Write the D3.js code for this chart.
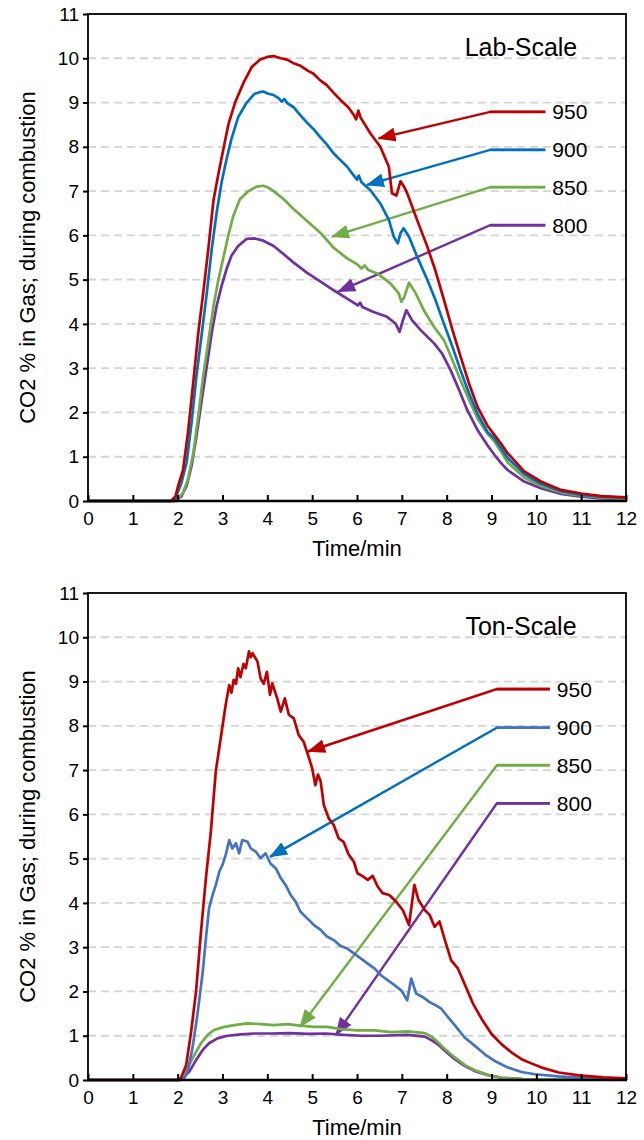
<!DOCTYPE html>
<html>
<head>
<meta charset="UTF-8">
<title>CO2 during combustion</title>
<script src="https://cdn.jsdelivr.net/npm/d3@7"></script>
<style>
  body { margin: 0; background: #fff; }
  text { font-family: "Liberation Sans", Arial, sans-serif; fill: #000; }
</style>
</head>
<body>
<svg width="644" height="1140"></svg>
<script>
// series names and tick values
const temps = ["950", "900", "850", "800"];
const xTicks = d3.range(0, 13);
const yTicks = d3.range(0, 12);
const gridValues = d3.range(1, 11);

// lab-scale curves, [time in min, CO2 %]
const lab950 = [[0,0],[1.85,0],[1.95,0.1],[2.01,0.34],[2.12,0.7],[2.23,1.55],[2.35,2.7],[2.46,3.8],[2.57,4.7],[2.69,5.75],[2.8,6.8],[2.91,7.4],[3.02,7.95],[3.13,8.5],[3.28,9.0],[3.47,9.45],[3.65,9.8],[3.84,9.97],[4.0,10.03],[4.14,10.05],[4.3,10.0],[4.44,9.97],[4.6,9.88],[4.74,9.83],[4.9,9.72],[5.03,9.65],[5.18,9.5],[5.32,9.4],[5.48,9.22],[5.63,9.06],[5.8,8.9],[5.93,8.72],[5.98,8.62],[6.03,8.82],[6.08,8.66],[6.3,8.3],[6.52,8.0],[6.71,7.55],[6.78,6.95],[6.88,6.9],[6.97,7.22],[7.05,7.1],[7.12,6.95],[7.34,6.35],[7.57,5.74],[7.75,5.2],[7.94,4.54],[8.13,3.86],[8.31,3.26],[8.5,2.65],[8.69,2.12],[8.91,1.7],[9.06,1.5],[9.21,1.3],[9.36,1.08],[9.73,0.67],[10.1,0.44],[10.55,0.25],[11,0.17],[11.45,0.11],[12,0.08]];
const lab900 = [[0,0],[1.93,0],[2.08,0.4],[2.2,0.87],[2.31,1.77],[2.42,2.83],[2.54,3.8],[2.65,4.7],[2.76,5.69],[2.87,6.52],[2.98,7.2],[3.09,7.72],[3.2,8.18],[3.35,8.67],[3.54,9.0],[3.72,9.2],[3.85,9.24],[3.91,9.25],[4.02,9.2],[4.14,9.17],[4.25,9.1],[4.32,9.02],[4.38,9.08],[4.45,8.98],[4.58,8.9],[4.73,8.72],[4.88,8.55],[5.03,8.4],[5.18,8.22],[5.33,8.05],[5.48,7.85],[5.63,7.7],[5.78,7.55],[5.93,7.35],[6.0,7.26],[6.04,7.35],[6.1,7.2],[6.3,7.02],[6.52,6.72],[6.71,6.35],[6.82,5.97],[6.91,5.82],[6.97,6.05],[7.04,6.16],[7.16,5.97],[7.34,5.52],[7.57,4.99],[7.75,4.54],[7.94,4.0],[8.13,3.48],[8.31,2.95],[8.5,2.43],[8.69,1.97],[8.91,1.56],[9.06,1.42],[9.21,1.2],[9.36,0.97],[9.73,0.61],[10.1,0.39],[10.55,0.22],[11,0.14],[11.45,0.1],[12,0.07]];
const lab850 = [[0,0],[1.97,0],[2.12,0.19],[2.23,0.49],[2.35,1.09],[2.46,1.92],[2.57,2.83],[2.69,3.65],[2.8,4.41],[2.91,5.01],[3.02,5.5],[3.13,6.0],[3.24,6.44],[3.39,6.82],[3.58,7.0],[3.76,7.1],[3.91,7.12],[4.02,7.08],[4.14,7.0],[4.36,6.82],[4.58,6.6],[4.88,6.33],[5.18,6.06],[5.48,5.72],[5.78,5.48],[6.0,5.35],[6.1,5.25],[6.17,5.32],[6.25,5.22],[6.45,5.14],[6.75,4.91],[6.93,4.69],[6.99,4.5],[7.05,4.6],[7.16,4.93],[7.31,4.69],[7.49,4.31],[7.72,3.93],[7.94,3.63],[8.13,3.18],[8.31,2.73],[8.5,2.28],[8.69,1.86],[8.91,1.52],[9.06,1.35],[9.21,1.12],[9.36,0.87],[9.73,0.53],[10.1,0.34],[10.55,0.19],[11,0.12],[11.45,0.08],[12,0.05]];
const lab800 = [[0,0],[1.9,0],[2.08,0.1],[2.2,0.34],[2.31,0.79],[2.42,1.47],[2.54,2.3],[2.65,3.05],[2.76,3.8],[2.87,4.41],[2.98,4.86],[3.09,5.24],[3.2,5.54],[3.35,5.76],[3.54,5.92],[3.72,5.93],[3.91,5.88],[4.14,5.76],[4.36,5.58],[4.58,5.39],[4.88,5.16],[5.18,4.96],[5.48,4.76],[5.78,4.57],[6.02,4.42],[6.07,4.48],[6.12,4.38],[6.37,4.27],[6.67,4.16],[6.86,4.01],[6.95,3.82],[7.03,4.1],[7.1,4.31],[7.23,4.08],[7.42,3.86],[7.72,3.56],[7.9,3.33],[8.09,2.95],[8.28,2.5],[8.46,2.05],[8.69,1.6],[8.91,1.26],[9.06,1.05],[9.21,0.86],[9.36,0.7],[9.73,0.44],[10.1,0.29],[10.55,0.16],[11,0.1],[11.45,0.06],[12,0.04]];

// ton-scale curves
const ton950 = [[0,0],[2.0,0],[2.07,0.04],[2.19,0.34],[2.3,1.09],[2.41,2.0],[2.52,3.35],[2.63,4.56],[2.74,5.61],[2.85,6.97],[2.96,7.72],[3.07,8.47],[3.15,8.92],[3.2,8.75],[3.25,9.04],[3.3,8.95],[3.35,9.3],[3.4,9.1],[3.47,9.4],[3.52,9.3],[3.59,9.68],[3.63,9.55],[3.67,9.64],[3.78,9.45],[3.85,9.07],[3.92,8.95],[3.99,9.22],[4.06,8.7],[4.11,8.96],[4.22,8.62],[4.3,8.32],[4.39,8.62],[4.48,8.25],[4.59,8.17],[4.7,7.79],[4.81,7.64],[4.93,7.27],[5.0,7.04],[5.07,6.66],[5.13,6.9],[5.19,6.74],[5.26,6.21],[5.37,5.91],[5.48,5.76],[5.59,5.46],[5.7,5.38],[5.81,5.1],[5.93,4.93],[6.01,4.67],[6.13,4.6],[6.24,4.52],[6.35,4.61],[6.46,4.37],[6.57,4.22],[6.72,4.18],[6.87,4.03],[7.02,3.84],[7.16,3.5],[7.28,4.41],[7.37,4.07],[7.51,3.84],[7.62,3.73],[7.73,3.46],[7.84,3.58],[7.96,3.16],[8.1,2.7],[8.25,2.52],[8.4,2.17],[8.59,1.72],[8.78,1.38],[9.0,1.04],[9.22,0.81],[9.45,0.62],[9.67,0.47],[9.9,0.37],[10.12,0.28],[10.5,0.17],[11,0.1],[11.5,0.06],[12,0.04]];
const ton900 = [[0,0],[2.05,0],[2.15,0.05],[2.22,0.19],[2.33,0.72],[2.44,1.47],[2.56,2.45],[2.63,3.2],[2.7,3.88],[2.78,4.18],[2.85,4.4],[2.93,4.71],[3.0,4.86],[3.07,5.08],[3.15,5.42],[3.22,5.23],[3.3,5.35],[3.37,5.12],[3.44,5.42],[3.56,5.38],[3.63,5.23],[3.74,5.16],[3.85,5.01],[3.96,5.12],[4.07,4.89],[4.19,4.78],[4.3,4.56],[4.41,4.4],[4.52,4.18],[4.63,4.03],[4.74,3.8],[4.89,3.65],[5.04,3.5],[5.19,3.39],[5.33,3.24],[5.48,3.16],[5.63,3.03],[5.78,2.97],[5.93,2.86],[6.09,2.74],[6.24,2.63],[6.39,2.52],[6.54,2.36],[6.69,2.25],[6.84,2.14],[6.99,2.02],[7.12,1.8],[7.21,2.29],[7.32,1.95],[7.47,1.87],[7.62,1.76],[7.77,1.68],[7.88,1.61],[8.03,1.42],[8.22,1.19],[8.4,0.96],[8.63,0.77],[8.85,0.58],[9.07,0.43],[9.37,0.28],[9.67,0.18],[9.97,0.13],[10.5,0.08],[11,0.05],[12,0.03]];
const ton850 = [[0,0],[2.0,0],[2.07,0.04],[2.22,0.26],[2.37,0.56],[2.52,0.83],[2.67,1.02],[2.81,1.13],[3.04,1.2],[3.26,1.24],[3.56,1.28],[3.85,1.26],[4.15,1.24],[4.44,1.26],[4.74,1.23],[5.04,1.2],[5.34,1.2],[5.64,1.15],[6.0,1.12],[6.39,1.12],[6.76,1.08],[7.13,1.1],[7.51,1.06],[7.66,0.98],[7.81,0.85],[7.96,0.7],[8.18,0.51],[8.4,0.34],[8.63,0.22],[8.93,0.11],[9.22,0.05],[9.7,0.02],[12,0.01]];
const ton800 = [[0,0],[2.05,0],[2.11,0.04],[2.26,0.19],[2.41,0.45],[2.56,0.68],[2.7,0.83],[2.89,0.94],[3.11,1.0],[3.41,1.03],[3.7,1.05],[4.1,1.05],[4.5,1.06],[4.9,1.04],[5.3,1.05],[5.7,1.02],[6.1,1.0],[6.5,1.0],[7.13,1.02],[7.51,0.98],[7.66,0.9],[7.81,0.8],[7.96,0.66],[8.18,0.47],[8.4,0.32],[8.63,0.2],[8.93,0.11],[9.22,0.05],[9.7,0.02],[12,0.01]];

// callouts: label row height (CO2 %) and arrow tip [time, CO2 %]
const labRows = [8.79, 7.93, 7.09, 6.23];
const labTips = [[6.48, 8.19], [6.22, 7.14], [5.44, 5.97], [5.58, 4.73]];
const tonRows = [8.83, 7.96, 7.11, 6.25];
const tonTips = [[4.91, 7.42], [4.06, 5.04], [4.73, 1.2], [5.53, 1.02]];

const svg = d3.select("svg");
const red = "#c00000", blue = "#0070c0", green = "#70ad47", purple = "#7030a0";

// one arrow head per colour
const defs = svg.append("defs");
[red, blue, green, purple].forEach((c, i) => {
  defs.append("marker")
    .attr("id", "head" + i)
    .attr("markerUnits", "userSpaceOnUse")
    .attr("viewBox", "0 0 18 14")
    .attr("markerWidth", 18)
    .attr("markerHeight", 14)
    .attr("refX", 17)
    .attr("refY", 7)
    .attr("orient", "auto")
    .append("path")
    .attr("d", "M0,0 L18,7 L0,14 Z")
    .attr("fill", c);
});

function drawPanel(cfg) {
  const x = d3.scaleLinear().domain([0, 12]).range([88, 626]);
  const y = d3.scaleLinear().domain([0, 11]).range([cfg.top + 487, cfg.top]);
  const g = svg.append("g");

  g.selectAll(".grid")
    .data(gridValues)
    .enter()
    .append("line")
    .attr("x1", x(0)).attr("x2", x(12))
    .attr("y1", d => y(d)).attr("y2", d => y(d))
    .attr("stroke", "#d4d4d4")
    .attr("stroke-width", 1.8)
    .attr("stroke-dasharray", "8,5");

  // callout lines sit under the curves
  cfg.rows.forEach((r, i) => {
    g.append("path")
      .attr("d", d3.line()([[x(cfg.stubEnd), y(r)], [x(cfg.bend), y(r)], [x(cfg.tips[i][0]), y(cfg.tips[i][1])]]))
      .attr("fill", "none")
      .attr("stroke", cfg.arrowColors[i])
      .attr("stroke-width", 2.4)
      .attr("marker-end", `url(#head${i})`);
    g.append("line")
      .attr("x1", x(cfg.bend)).attr("x2", x(cfg.stubEnd))
      .attr("y1", y(r)).attr("y2", y(r))
      .attr("stroke", cfg.colors[i])
      .attr("stroke-width", 2.8);
    g.append("text")
      .attr("x", x(cfg.stubEnd) + 7)
      .attr("y", y(r))
      .attr("dy", "0.36em")
      .style("font-size", "21px")
      .text(temps[i]);
  });

  const line = d3.line().x(d => x(d[0])).y(d => y(d[1]));
  // draw 800 first so 950 ends on top
  cfg.series.slice().reverse().forEach((s, k) => {
    const i = cfg.series.length - 1 - k;
    g.append("path")
      .datum(s)
      .attr("d", line)
      .attr("fill", "none")
      .attr("stroke", cfg.colors[i])
      .attr("stroke-width", 2.7)
      .attr("stroke-linejoin", "round");
  });

  const xAxis = g.append("g")
    .attr("transform", `translate(0,${y(0)})`)
    .call(d3.axisBottom(x).tickValues(xTicks).tickSizeInner(-6).tickSizeOuter(0).tickPadding(11));
  const yAxis = g.append("g")
    .attr("transform", `translate(${x(0)},0)`)
    .call(d3.axisLeft(y).tickValues(yTicks).tickSizeInner(5).tickSizeOuter(0).tickPadding(4));
  [xAxis, yAxis].forEach(a => {
    a.select(".domain").remove();
    a.selectAll("line").attr("stroke", "#000").attr("stroke-width", 2);
    a.selectAll("text").style("font-size", "19px").attr("fill", "#000")
      .style("font-family", "'Liberation Sans', Arial, sans-serif");
  });

  g.append("rect")
    .attr("x", x(0)).attr("y", y(11))
    .attr("width", x(12) - x(0)).attr("height", y(0) - y(11))
    .attr("fill", "none")
    .attr("stroke", "#000")
    .attr("stroke-width", 1.8);
  g.append("line")
    .attr("x1", x(0) - 1).attr("x2", x(12) + 1)
    .attr("y1", y(0)).attr("y2", y(0))
    .attr("stroke", "#000")
    .attr("stroke-width", 2.6);

  g.append("text")
    .attr("x", 521).attr("y", y(11) + 33)
    .attr("dy", "0.36em")
    .attr("text-anchor", "middle")
    .style("font-size", "25px")
    .text(cfg.title);

  g.append("text")
    .attr("x", (x(0) + x(12)) / 2)
    .attr("y", y(0) + 47)
    .attr("dy", "0.36em")
    .attr("text-anchor", "middle")
    .style("font-size", "22px")
    .text("Time/min");

  g.append("text")
    .attr("transform", `translate(27,${(y(0) + y(11)) / 2}) rotate(-90)`)
    .attr("dy", "0.36em")
    .attr("text-anchor", "middle")
    .style("font-size", "22px")
    .text("CO2 % in Gas; during combustion");
}

drawPanel({
  top: 14,
  title: "Lab-Scale",
  series: [lab950, lab900, lab850, lab800],
  colors: [red, blue, green, purple],
  arrowColors: [red, blue, green, purple],
  rows: labRows,
  tips: labTips,
  bend: 8.97,
  stubEnd: 10.2
});

drawPanel({
  top: 593,
  title: "Ton-Scale",
  series: [ton950, ton900, ton850, ton800],
  colors: [red, "#4472c4", green, purple],
  arrowColors: [red, blue, green, purple],
  rows: tonRows,
  tips: tonTips,
  bend: 9.12,
  stubEnd: 10.3
});
</script>
</body>
</html>
